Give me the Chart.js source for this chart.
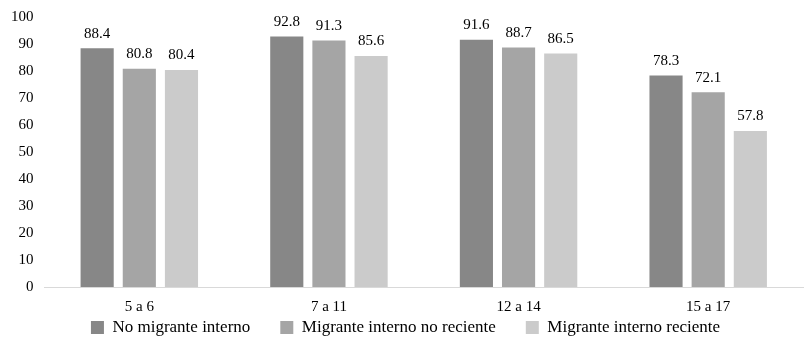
<!DOCTYPE html>
<html lang="es">
<head>
    <meta charset="UTF-8">
    <title>Migración interna por edad</title>
    <script src="https://cdn.jsdelivr.net/npm/chart.js"></script>
    <style>
        html, body { margin: 0; padding: 0; background: #fff; }
        #wrap { width: 808px; height: 346px; position: relative; }
    </style>
</head>
<body>
    <div id="wrap"><canvas id="chart"></canvas></div>
    <script>
        const categories = ['5 a 6', '7 a 11', '12 a 14', '15 a 17'];
        const seriesNames = ['No migrante interno', 'Migrante interno no reciente', 'Migrante interno reciente'];
        const noMigrante = [88.4, 92.8, 91.6, 78.3];
        const migranteNoReciente = [80.8, 91.3, 88.7, 72.1];
        const migranteReciente = [80.4, 85.6, 86.5, 57.8];
        const colors = ['#878787', '#a5a5a5', '#cbcbcb'];

        const fontFamily = '"Liberation Serif", "Times New Roman", serif';

        // etiquetas encima de cada barra
        const valueLabels = {
            id: 'valueLabels',
            afterDatasetsDraw(chart) {
                const ctx = chart.ctx;
                ctx.save();
                ctx.font = '15px ' + fontFamily;
                ctx.fillStyle = '#000';
                ctx.textAlign = 'center';
                ctx.textBaseline = 'bottom';
                chart.data.datasets.forEach((ds, i) => {
                    chart.getDatasetMeta(i).data.forEach((bar, j) => {
                        ctx.fillText(ds.data[j].toFixed(1), bar.x, bar.y - 7);
                    });
                });
                ctx.restore();
            }
        };

        // la leyenda tiene mucho relleno horizontal; la subimos para que quede pegada al eje
        const legendShift = {
            id: 'legendShift',
            afterLayout(chart) {
                const legend = chart.legend;
                const shift = legend.top - (chart.chartArea.bottom + 2);
                legend.top -= shift;
                legend.bottom -= shift;
            }
        };

        new Chart(document.getElementById('chart'), {
            type: 'bar',
            data: {
                labels: categories,
                datasets: [
                    { label: seriesNames[0], data: noMigrante, backgroundColor: colors[0] },
                    { label: seriesNames[1], data: migranteNoReciente, backgroundColor: colors[1] },
                    { label: seriesNames[2], data: migranteReciente, backgroundColor: colors[2] }
                ]
            },
            options: {
                responsive: true,
                maintainAspectRatio: false,
                animation: false,
                layout: { padding: { top: 17, right: 5, left: 8, bottom: -21 } },
                datasets: { bar: { categoryPercentage: 0.667, barPercentage: 0.786 } },
                scales: {
                    x: {
                        grid: { display: false },
                        border: { display: true, color: '#d9d9d9', width: 1 },
                        ticks: { color: '#000', font: { family: fontFamily, size: 15 }, padding: 3 }
                    },
                    y: {
                        min: 0,
                        max: 100,
                        grid: { display: false },
                        border: { display: false },
                        ticks: { stepSize: 10, color: '#000', font: { family: fontFamily, size: 15 }, padding: 3 }
                    }
                },
                plugins: {
                    tooltip: { enabled: false },
                    legend: {
                        position: 'bottom',
                        maxHeight: 48,
                        labels: {
                            color: '#000',
                            font: { family: fontFamily, size: 17 },
                            boxWidth: 13,
                            boxHeight: 13,
                            padding: 30
                        }
                    }
                }
            },
            plugins: [valueLabels, legendShift]
        });
    </script>
</body>
</html>
